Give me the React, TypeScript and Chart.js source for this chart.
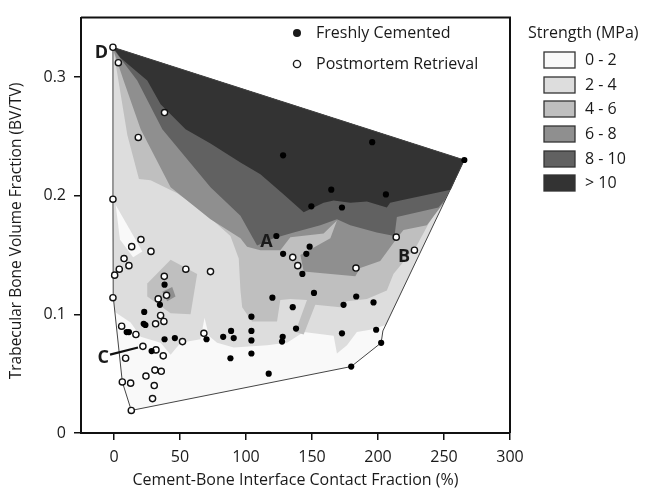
import { useEffect, useRef } from "react";
import { Chart, registerables } from "chart.js";

Chart.register(...registerables);

// ---------- axis data ----------
const xTicks = [0, 50, 100, 150, 200, 250, 300];
const yTicks = [0, 0.1, 0.2, 0.3];
const yTickLabels = ["0", "0.1", "0.2", "0.3"];
const xTitle = "Cement-Bone Interface Contact Fraction (%)";
const yTitle = "Trabecular Bone Volume Fraction (BV/TV)";

// ---------- series ----------
const freshLabel = "Freshly Cemented";
const freshX = [265.4, 195.6, 128.1, 164.6, 206.0, 149.5, 172.7, 123.0, 128.1, 148.2, 145.7, 142.7, 120.0, 135.4, 151.5, 173.9, 183.5, 196.6, 104.1, 137.9, 172.7, 198.6, 202.4, 179.7, 117.2, 104.1, 104.1, 104.1, 88.2, 88.7, 90.7, 82.7, 127.8, 127.3, 70.1, 46.1, 38.3, 28.5, 22.9, 22.5, 23.8, 9.6, 11.3, 34.8, 38.3];
const freshY = [0.230, 0.245, 0.234, 0.205, 0.201, 0.191, 0.190, 0.166, 0.151, 0.157, 0.151, 0.134, 0.114, 0.106, 0.118, 0.108, 0.115, 0.110, 0.098, 0.088, 0.084, 0.087, 0.076, 0.056, 0.050, 0.067, 0.078, 0.086, 0.063, 0.086, 0.080, 0.081, 0.081, 0.077, 0.079, 0.080, 0.079, 0.069, 0.102, 0.092, 0.091, 0.085, 0.085, 0.108, 0.125];

const postLabel = "Postmortem Retrieval";
const postX = [-0.8, 3.3, 38.3, 18.4, -0.8, 20.4, 13.4, 28.0, 7.6, 11.3, 4.0, 0.5, 38.1, 54.4, 73.1, -0.8, 39.8, 33.5, 35.3, 37.8, 31.5, 5.8, 16.6, 68.1, 51.9, 21.9, 31.8, 8.8, 37.3, 31.0, 35.8, 24.2, 6.3, 12.6, 30.5, 29.2, 13.1, 135.4, 139.2, 183.3, 213.8, 227.6];
const postY = [0.325, 0.312, 0.270, 0.249, 0.197, 0.163, 0.157, 0.153, 0.147, 0.141, 0.138, 0.133, 0.132, 0.138, 0.136, 0.114, 0.116, 0.113, 0.099, 0.094, 0.092, 0.090, 0.083, 0.084, 0.077, 0.073, 0.070, 0.063, 0.065, 0.053, 0.052, 0.048, 0.043, 0.042, 0.040, 0.029, 0.019, 0.148, 0.141, 0.139, 0.165, 0.154];

// ---------- strength contour legend ----------
const strengthTitle = "Strength (MPa)";
const strengthLabels = ["0 - 2", "2 - 4", "4 - 6", "6 - 8", "8 - 10", "> 10"];
const strengthColors = ["#f9f9f9", "#dddddd", "#bfbfbf", "#8f8f8f", "#616161", "#333333"];

// ---------- contour polygons [x, y] ----------
const hullPoly = [[-0.8, 0.325], [265.4, 0.230], [203.7, 0.086], [202.4, 0.076], [179.7, 0.056], [13.1, 0.019], [6.3, 0.043], [-0.6, 0.115], [-0.8, 0.197]];
const level2Poly = [[-0.8, 0.325], [265.4, 0.230], [206.1, 0.091], [194.1, 0.087], [184.0, 0.085], [176.5, 0.074], [168.9, 0.067], [166.4, 0.082], [143.7, 0.085], [131.1, 0.076], [116.0, 0.074], [90.7, 0.072], [78.1, 0.076], [71.8, 0.082], [68.6, 0.097], [65.5, 0.079], [50.4, 0.076], [42.9, 0.066], [35.3, 0.076], [20.2, 0.081], [12.6, 0.093], [0.7, 0.102], [-0.6, 0.115], [-0.8, 0.197]];
const level2Hole = [[1.3, 0.192], [21.5, 0.153], [14.5, 0.148], [4.5, 0.163]];
const level4Poly = [[-0.8, 0.325], [265.4, 0.230], [253.3, 0.202], [238.2, 0.176], [229.4, 0.158], [211.7, 0.134], [206.7, 0.120], [191.6, 0.113], [176.5, 0.111], [171.4, 0.106], [152.5, 0.108], [143.7, 0.083], [137.4, 0.085], [146.2, 0.112], [133.6, 0.113], [126.0, 0.112], [123.5, 0.094], [104.6, 0.094], [97.1, 0.106], [95.8, 0.120], [94.5, 0.147], [88.2, 0.166], [68.1, 0.186], [47.9, 0.202], [27.7, 0.213], [18.9, 0.214], [10.1, 0.251], [1.3, 0.311]];
const level4Blob = [[25.2, 0.126], [42.9, 0.146], [63.0, 0.134], [58.0, 0.100], [42.9, 0.101], [25.2, 0.115]];
const level6Poly = [[-0.8, 0.325], [265.4, 0.230], [249.8, 0.194], [237.0, 0.175], [219.3, 0.171], [214.3, 0.164], [201.7, 0.145], [186.5, 0.139], [182.8, 0.132], [143.7, 0.136], [141.2, 0.150], [163.9, 0.164], [168.9, 0.179], [158.8, 0.168], [133.6, 0.165], [126.0, 0.154], [110.9, 0.154], [100.8, 0.157], [95.8, 0.164], [73.1, 0.180], [42.9, 0.207], [20.2, 0.256], [7.6, 0.296], [0.0, 0.321]];
const level6Blob = [[36.6, 0.119], [44.1, 0.123], [46.6, 0.115], [40.3, 0.111]];
const level8Poly = [[-0.8, 0.325], [265.4, 0.230], [250.3, 0.196], [245.8, 0.190], [214.3, 0.182], [212.5, 0.166], [199.1, 0.169], [179.0, 0.175], [168.9, 0.180], [156.3, 0.175], [136.1, 0.169], [121.0, 0.164], [108.4, 0.158], [95.8, 0.183], [73.1, 0.207], [36.6, 0.256], [17.6, 0.297], [0.5, 0.322]];
const level10Poly = [[-0.8, 0.325], [265.4, 0.230], [255.1, 0.205], [216.8, 0.196], [209.2, 0.194], [206.7, 0.190], [191.6, 0.195], [179.0, 0.194], [166.4, 0.196], [158.8, 0.194], [143.7, 0.186], [128.6, 0.201], [110.9, 0.218], [95.8, 0.228], [73.1, 0.244], [54.2, 0.256], [35.3, 0.277], [25.2, 0.297], [5.0, 0.316]];

// ---------- annotations ----------
const annotLabels = ["A", "B", "C", "D"];
const annotX = [115.5, 219.8, -8.1, -9.5];
const annotY = [0.161, 0.148, 0.0633, 0.3205];
const cLeaderLine = [[-3.0, 0.066], [18.2, 0.072]];

const FONT = '"Open Sans", "DejaVu Sans", sans-serif';

const toPts = (poly: number[][]) => poly.map(([x, y]) => ({ x, y }));
const ring = (poly: number[][]) => toPts([...poly, poly[0]]);

function polyDataset(poly: number[][], color: string, order: number) {
  return {
    data: toPts(poly),
    showLine: true,
    fill: "shape",
    backgroundColor: color,
    borderColor: "rgba(0,0,0,0)",
    borderWidth: 0,
    pointRadius: 0,
    pointHoverRadius: 0,
    tension: 0,
    order,
  };
}

const overlayPlugin = {
  id: "overlay",
  afterDatasetsDraw(chart: any) {
    const { ctx, chartArea: ca, scales } = chart;
    const xs = scales.x;
    const ys = scales.y;
    ctx.save();
    // frame top & right
    ctx.strokeStyle = "#111";
    ctx.lineWidth = 2;
    ctx.beginPath();
    ctx.moveTo(ca.left, ca.top);
    ctx.lineTo(ca.right, ca.top);
    ctx.lineTo(ca.right, ca.bottom);
    ctx.stroke();

    // annotation letters
    ctx.fillStyle = "#1a1a1a";
    ctx.font = `bold 18px ${FONT}`;
    ctx.textAlign = "center";
    ctx.textBaseline = "middle";
    annotLabels.forEach((t, i) => {
      ctx.fillText(t, xs.getPixelForValue(annotX[i]), ys.getPixelForValue(annotY[i]));
    });

    // series legend
    ctx.font = `16px ${FONT}`;
    ctx.textAlign = "left";
    ctx.fillStyle = "#1a1a1a";
    ctx.beginPath();
    ctx.arc(297, 33, 4, 0, Math.PI * 2);
    ctx.fill();
    ctx.fillText(freshLabel, 316, 33);
    ctx.beginPath();
    ctx.arc(297, 64, 3.6, 0, Math.PI * 2);
    ctx.fillStyle = "#fff";
    ctx.fill();
    ctx.lineWidth = 1.4;
    ctx.strokeStyle = "#1a1a1a";
    ctx.stroke();
    ctx.fillStyle = "#1a1a1a";
    ctx.fillText(postLabel, 316, 64);

    // strength legend
    ctx.font = `16px ${FONT}`;
    ctx.fillText(strengthTitle, 528, 33);
    const tops = [52, 77, 101, 126, 151, 175];
    strengthLabels.forEach((lab, i) => {
      ctx.fillStyle = strengthColors[i];
      ctx.fillRect(544, tops[i], 31, 16);
      ctx.strokeStyle = "#333";
      ctx.lineWidth = 1.3;
      ctx.strokeRect(544, tops[i], 31, 16);
      ctx.fillStyle = "#1a1a1a";
      ctx.fillText(lab, 585, tops[i] + 8.5);
    });

    // y-axis title
    ctx.translate(17, 231);
    ctx.rotate(-Math.PI / 2);
    ctx.textAlign = "center";
    ctx.font = `15.5px ${FONT}`;
    ctx.fillText(yTitle, 0, 0);
    ctx.restore();
  },
};

export default function App() {
  const ref = useRef<HTMLCanvasElement | null>(null);
  useEffect(() => {
    if (!ref.current) return;
    const datasets: any[] = [
      {
        label: freshLabel,
        data: freshX.map((x, i) => ({ x, y: freshY[i] })),
        backgroundColor: "#000",
        borderColor: "#000",
        pointRadius: 3.1,
        borderWidth: 0,
        order: 0,
      },
      {
        label: postLabel,
        data: postX.map((x, i) => ({ x, y: postY[i] })),
        backgroundColor: "#fff",
        borderColor: "#111",
        pointRadius: 3.1,
        borderWidth: 1.4,
        order: 1,
      },
      {
        data: toPts(cLeaderLine),
        showLine: true,
        borderColor: "#111",
        borderWidth: 2.2,
        pointRadius: 0,
        fill: false,
        order: 2,
      },
      {
        data: ring(hullPoly),
        showLine: true,
        borderColor: "#444",
        borderWidth: 1,
        pointRadius: 0,
        fill: false,
        order: 3,
      },
      polyDataset(level10Poly, strengthColors[5], 4),
      polyDataset(level8Poly, strengthColors[4], 5),
      polyDataset(level6Blob, strengthColors[3], 6),
      polyDataset(level6Poly, strengthColors[3], 7),
      polyDataset(level4Blob, strengthColors[2], 8),
      polyDataset(level4Poly, strengthColors[2], 9),
      polyDataset(level2Hole, strengthColors[0], 10),
      polyDataset(level2Poly, strengthColors[1], 11),
      polyDataset(hullPoly, strengthColors[0], 12),
    ];
    const chart = new Chart(ref.current, {
      type: "scatter",
      data: { datasets },
      options: {
        responsive: false,
        animation: false,
        layout: { padding: { left: 0, right: 135, top: 6, bottom: 0 } },
        plugins: { legend: { display: false }, tooltip: { enabled: false } },
        scales: {
          x: {
            type: "linear",
            min: -25,
            max: 300,
            afterBuildTicks: (s: any) => {
              s.ticks = xTicks.map((v) => ({ value: v }));
            },
            afterFit: (s: any) => {
              s.height = 62;
            },
            grid: { display: true, drawOnChartArea: false, drawTicks: true, tickLength: 7, color: "#111", lineWidth: 1.5 },
            border: { display: true, color: "#111", width: 2 },
            ticks: {
              color: "#1a1a1a",
              font: { family: FONT, size: 16 },
              padding: 8,
              maxRotation: 0,
              autoSkip: false,
              callback: (v: any) => String(v),
            },
            title: {
              display: true,
              text: xTitle,
              color: "#1a1a1a",
              font: { family: FONT, size: 16 },
              padding: { top: 0, bottom: 5 },
            },
          },
          y: {
            type: "linear",
            min: 0,
            max: 0.35,
            afterBuildTicks: (s: any) => {
              s.ticks = yTicks.map((v) => ({ value: v }));
            },
            afterFit: (s: any) => {
              s.width = 81;
            },
            grid: { display: true, drawOnChartArea: false, drawTicks: true, tickLength: 7, color: "#111", lineWidth: 1.5 },
            border: { display: true, color: "#111", width: 2 },
            ticks: {
              color: "#1a1a1a",
              font: { family: FONT, size: 16 },
              padding: 8,
              autoSkip: false,
              callback: (_v: any, i: number) => yTickLabels[i],
            },
          },
        },
      },
      plugins: [overlayPlugin],
    } as any);
    return () => chart.destroy();
  }, []);
  return (
    <div style={{ position: "absolute", left: 0, top: 0, width: 645, height: 495, background: "#fff" }}>
      <canvas ref={ref} width={645} height={495} style={{ width: 645, height: 495 }} />
    </div>
  );
}
